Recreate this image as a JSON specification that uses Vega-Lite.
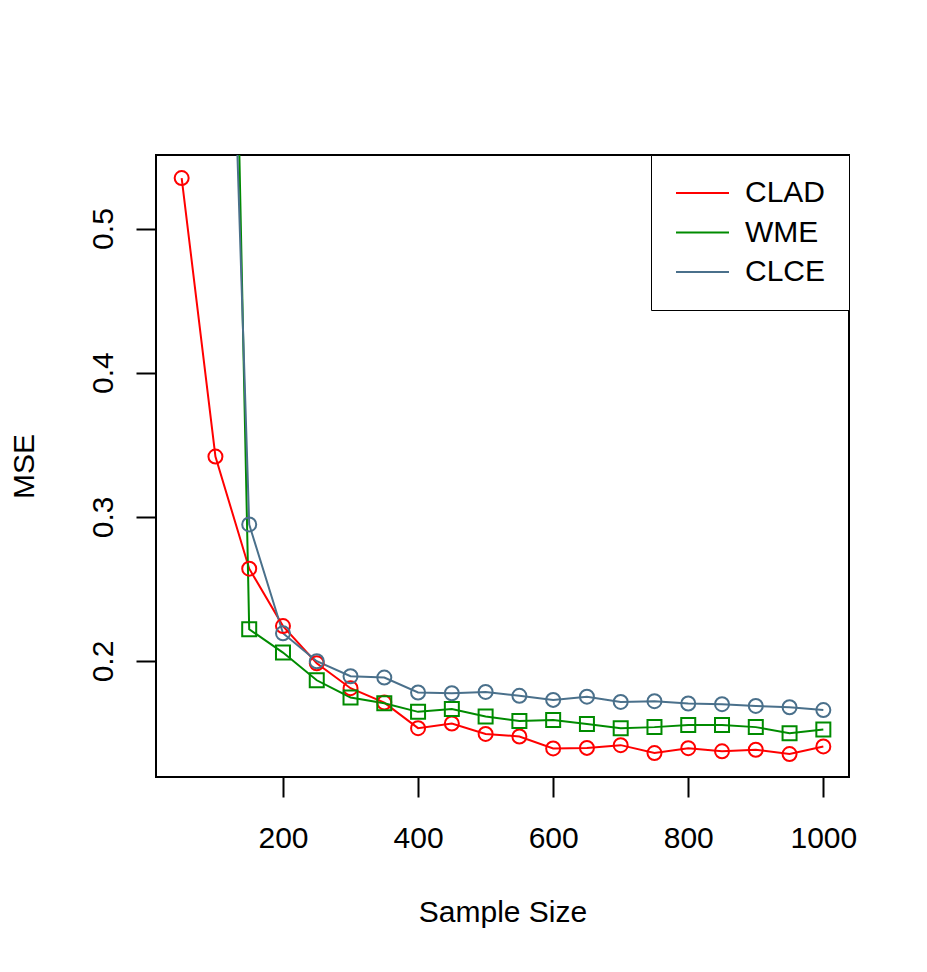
{
  "$schema": "https://vega.github.io/schema/vega-lite/v6.json",
  "autosize": "none",
  "width": 693,
  "height": 622,
  "padding": {"left": 156, "top": 155, "right": 78, "bottom": 195},
  "background": "white",
  "config": {
    "font": "Liberation Sans",
    "view": {"stroke": "black", "strokeWidth": 2},
    "axis": {
      "grid": false,
      "domain": false,
      "ticks": true,
      "tickColor": "black",
      "tickWidth": 2,
      "tickSize": 20,
      "labelFont": "Liberation Sans",
      "labelFontSize": 30,
      "labelColor": "black",
      "titleFont": "Liberation Sans",
      "titleFontSize": 30,
      "titleFontWeight": "normal",
      "titleColor": "black"
    },
    "legend": {
      "orient": "top-right",
      "offset": 0,
      "padding": 23,
      "strokeColor": "black",
      "fillColor": "white",
      "labelFont": "Liberation Sans",
      "labelFontSize": 30,
      "labelColor": "black",
      "rowPadding": 9.5
    }
  },
  "data": {
    "values": [
      {"n": 50, "method": "CLAD", "mse": 0.535},
      {"n": 100, "method": "CLAD", "mse": 0.3418},
      {"n": 150, "method": "CLAD", "mse": 0.264},
      {"n": 200, "method": "CLAD", "mse": 0.2242},
      {"n": 250, "method": "CLAD", "mse": 0.1984},
      {"n": 300, "method": "CLAD", "mse": 0.1811},
      {"n": 350, "method": "CLAD", "mse": 0.1711},
      {"n": 400, "method": "CLAD", "mse": 0.1534},
      {"n": 450, "method": "CLAD", "mse": 0.1566},
      {"n": 500, "method": "CLAD", "mse": 0.1494},
      {"n": 550, "method": "CLAD", "mse": 0.1476},
      {"n": 600, "method": "CLAD", "mse": 0.1393},
      {"n": 650, "method": "CLAD", "mse": 0.1397},
      {"n": 700, "method": "CLAD", "mse": 0.1416},
      {"n": 750, "method": "CLAD", "mse": 0.1361},
      {"n": 800, "method": "CLAD", "mse": 0.1395},
      {"n": 850, "method": "CLAD", "mse": 0.1373},
      {"n": 900, "method": "CLAD", "mse": 0.1384},
      {"n": 950, "method": "CLAD", "mse": 0.1354},
      {"n": 1000, "method": "CLAD", "mse": 0.1407},
      {"n": 100, "method": "WME", "mse": 1.35},
      {"n": 150, "method": "WME", "mse": 0.222},
      {"n": 200, "method": "WME", "mse": 0.2058},
      {"n": 250, "method": "WME", "mse": 0.1866},
      {"n": 300, "method": "WME", "mse": 0.1747},
      {"n": 350, "method": "WME", "mse": 0.1707},
      {"n": 400, "method": "WME", "mse": 0.1647},
      {"n": 450, "method": "WME", "mse": 0.1666},
      {"n": 500, "method": "WME", "mse": 0.1615},
      {"n": 550, "method": "WME", "mse": 0.1584},
      {"n": 600, "method": "WME", "mse": 0.1591},
      {"n": 650, "method": "WME", "mse": 0.1563},
      {"n": 700, "method": "WME", "mse": 0.1534},
      {"n": 750, "method": "WME", "mse": 0.1541},
      {"n": 800, "method": "WME", "mse": 0.1555},
      {"n": 850, "method": "WME", "mse": 0.1555},
      {"n": 900, "method": "WME", "mse": 0.1541},
      {"n": 950, "method": "WME", "mse": 0.1499},
      {"n": 1000, "method": "WME", "mse": 0.1525},
      {"n": 100, "method": "CLCE", "mse": 1.03},
      {"n": 150, "method": "CLCE", "mse": 0.2947},
      {"n": 200, "method": "CLCE", "mse": 0.2192},
      {"n": 250, "method": "CLCE", "mse": 0.1998},
      {"n": 300, "method": "CLCE", "mse": 0.1894},
      {"n": 350, "method": "CLCE", "mse": 0.1885},
      {"n": 400, "method": "CLCE", "mse": 0.1781},
      {"n": 450, "method": "CLCE", "mse": 0.1776},
      {"n": 500, "method": "CLCE", "mse": 0.1785},
      {"n": 550, "method": "CLCE", "mse": 0.1758},
      {"n": 600, "method": "CLCE", "mse": 0.173},
      {"n": 650, "method": "CLCE", "mse": 0.1752},
      {"n": 700, "method": "CLCE", "mse": 0.1716},
      {"n": 750, "method": "CLCE", "mse": 0.1721},
      {"n": 800, "method": "CLCE", "mse": 0.1705},
      {"n": 850, "method": "CLCE", "mse": 0.17},
      {"n": 900, "method": "CLCE", "mse": 0.1688},
      {"n": 950, "method": "CLCE", "mse": 0.1679},
      {"n": 1000, "method": "CLCE", "mse": 0.1659}
    ]
  },
  "encoding": {
    "x": {
      "field": "n",
      "type": "quantitative",
      "scale": {"domain": [12, 1038], "nice": false, "zero": false},
      "axis": {
        "values": [200, 400, 600, 800, 1000],
        "format": "d",
        "title": "Sample Size",
        "labelPadding": 50,
        "labelBaseline": "alphabetic",
        "labelFlush": false,
        "labelOverlap": false,
        "titleBaseline": "alphabetic",
        "titleY": 144
      }
    },
    "y": {
      "field": "mse",
      "type": "quantitative",
      "scale": {"domain": [0.1195, 0.551], "nice": false, "zero": false},
      "axis": {
        "values": [0.2, 0.3, 0.4, 0.5],
        "format": ".1f",
        "title": "MSE",
        "labelAngle": -90,
        "labelAlign": "center",
        "labelBaseline": "alphabetic",
        "labelPadding": 24,
        "labelFlush": false,
        "labelOverlap": false,
        "titleAngle": -90,
        "titleAlign": "center",
        "titleBaseline": "alphabetic",
        "titleX": -123
      }
    }
  },
  "layer": [
    {
      "mark": {"type": "line", "strokeWidth": 2, "clip": true},
      "encoding": {
        "color": {
          "field": "method",
          "type": "nominal",
          "scale": {"domain": ["CLAD", "WME", "CLCE"], "range": ["#FF0000", "#008B00", "#4A708B"]},
          "legend": {
            "title": null,
            "symbolType": "M-1.3,0H4",
            "symbolSize": 400,
            "symbolStrokeWidth": 2,
            "symbolOpacity": 1,
            "labelOffset": 41
          }
        }
      }
    },
    {
      "mark": {"type": "point", "filled": false, "strokeWidth": 2, "size": 196, "clip": true, "opacity": 1},
      "encoding": {
        "stroke": {
          "field": "method",
          "type": "nominal",
          "scale": {"domain": ["WME", "CLAD", "CLCE"], "range": ["#008B00", "#FF0000", "#4A708B"]},
          "legend": null
        },
        "shape": {
          "field": "method",
          "type": "nominal",
          "scale": {"domain": ["WME", "CLCE", "CLAD"], "range": ["square", "circle", "circle"]},
          "legend": null
        }
      }
    }
  ]
}
